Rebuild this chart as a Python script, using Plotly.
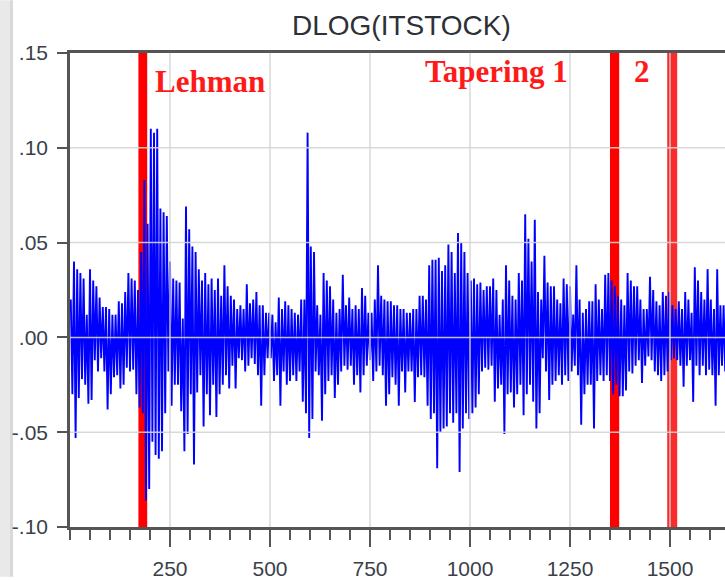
import plotly.graph_objects as go

# Daily log-differences of ITSTOCK, one value every 4 observations starting at obs 2
seg_a = [0.020, -0.030, 0.040, -0.053, 0.036, -0.032, 0.034, -0.022, 0.031, -0.025,
         0.012, -0.035, 0.036, -0.033, 0.030, -0.012, 0.027, -0.018, 0.021, -0.011,
         0.016, -0.018, 0.016, -0.038, 0.015, -0.030, 0.012, -0.021, 0.012, -0.020,
         0.019, -0.027, 0.018, -0.025, 0.024, -0.016, 0.034, -0.018, 0.031, -0.017,
         0.030, -0.030, 0.025, -0.037, 0.045, -0.040, 0.083, -0.086, 0.060, -0.080,
         0.110, -0.055, 0.108, -0.062, 0.110, -0.064, 0.068, -0.060, 0.066, -0.040,
         0.064, -0.018, 0.040]
seg_b = [-0.036, 0.031, -0.025, 0.030, -0.025, 0.029, -0.039, 0.010, -0.060, 0.069,
         -0.051, 0.057, -0.030, 0.048, -0.067, 0.045, -0.029, 0.036, -0.020, 0.030,
         -0.047, 0.034, -0.030, 0.028, -0.041, 0.031, -0.025, 0.025, -0.042, 0.031,
         -0.030, 0.022, -0.025, 0.038, -0.020, 0.027, -0.027, 0.022, -0.015, 0.020,
         -0.027, 0.015, -0.011, 0.017, -0.012, 0.015, -0.018, 0.028, -0.015, 0.018,
         -0.011, 0.020, -0.014, 0.024, -0.020, 0.017, -0.036, 0.017, -0.020, 0.013,
         -0.011, 0.013, -0.011, 0.012, -0.023, 0.008, -0.020, 0.021, -0.036, 0.015,
         -0.018, 0.019, -0.025, 0.017, -0.023]
seg_c = [0.015, -0.020, 0.013, -0.023, 0.012, -0.018, 0.020, -0.034, 0.020, -0.040,
         0.108, -0.053, 0.048, -0.043, 0.045, -0.018, 0.017, -0.020, 0.012, -0.044,
         0.034, -0.030, 0.030, -0.023, 0.027, -0.020, 0.020, -0.032, 0.013, -0.025,
         0.015, -0.018, 0.033, -0.015, 0.017, -0.017, 0.021, -0.015, 0.015, -0.025,
         0.017, -0.020, 0.015, -0.029, 0.026, -0.020, 0.022, -0.015, 0.013, -0.012,
         0.013, -0.023, 0.020, -0.018, 0.038, -0.015, 0.022, -0.020, 0.020, -0.036,
         0.019, -0.030, 0.019, -0.021, 0.017, -0.025, 0.017, -0.036, 0.015, -0.018,
         0.015, -0.029, 0.013, -0.018, 0.013]
seg_d = [-0.018, 0.015, -0.034, 0.015, -0.021, 0.022, -0.020, 0.022, -0.021, 0.020,
         -0.036, 0.038, -0.043, 0.041, -0.040, 0.041, -0.069, 0.042, -0.050, 0.035,
         -0.048, 0.038, -0.047, 0.049, -0.040, 0.045, -0.045, 0.034, -0.040, 0.055,
         -0.071, 0.050, -0.048, 0.045, -0.040, 0.034, -0.043, 0.030, -0.040, 0.031,
         -0.037, 0.028, -0.030, 0.029, -0.018, 0.025, -0.016, 0.027, -0.017, 0.027,
         -0.015, 0.031, -0.034, 0.025, -0.027, 0.012, -0.025, 0.020, -0.051, 0.038,
         -0.030, 0.030, -0.029, 0.022, -0.037, 0.020, -0.030, 0.034, -0.025, 0.030,
         -0.041, 0.065, -0.030, 0.052, -0.025]
seg_e = [0.040, -0.034, 0.062, -0.048, 0.024, -0.040, 0.020, -0.011, 0.043, -0.018,
         0.029, -0.033, 0.027, -0.025, 0.027, -0.023, 0.020, -0.020, 0.018, -0.025,
         0.031, -0.020, 0.028, -0.023, 0.027, -0.018, 0.012, -0.015, 0.038, -0.020,
         0.020, -0.046, 0.013, -0.030, 0.015, -0.025, 0.019, -0.025, 0.019, -0.048,
         0.028, -0.023, 0.020, -0.020, 0.015, -0.023, 0.033, -0.020, 0.034, -0.023,
         0.030, -0.030, 0.027, -0.025, 0.022, -0.031, 0.020, -0.031, 0.017, -0.028,
         0.034, -0.018, 0.030, -0.019, 0.027, -0.015, 0.027, -0.012, 0.020, -0.024,
         0.015, -0.015, 0.015, -0.010, 0.032]
seg_f = [-0.012, 0.025, -0.018, 0.019, -0.020, 0.017, -0.023, 0.024, -0.020, 0.022,
         -0.018, 0.024, -0.012, 0.017, -0.011, 0.015, -0.012, 0.019, -0.015, 0.015,
         -0.026, 0.024, -0.015, 0.020, -0.012, 0.013, -0.034, 0.037, -0.015, 0.030,
         -0.020, 0.024, -0.015, 0.020, -0.020, 0.036, -0.017, 0.020, -0.020, 0.015,
         -0.036, 0.036, -0.020, 0.017, -0.015, 0.017, -0.018, 0.012]
dlog = seg_a + seg_b + seg_c + seg_d + seg_e + seg_f
obs = [2 + 4 * i for i in range(len(dlog))]

# Event windows (observation ranges) and their labels
event_start = [171, 1350, 1493]
event_end = [193, 1373, 1518]
event_label = ["Lehman", "Tapering 1", "2"]
label_x = [207, 882, 1429]
label_y = [0.1350, 0.1405, 0.1405]
label_anchor = ["left", "left", "center"]

x_ticks = [250, 500, 750, 1000, 1250, 1500]
y_ticks = [-0.10, -0.05, 0.00, 0.05, 0.10, 0.15]
y_labels = ["-.10", "-.05", ".00", ".05", ".10", ".15"]
x_range = [0, 1637.5]
y_range = [-0.10, 0.15]

L, R, T, B, W, H = 70, 0, 53, 50, 725, 580
PW, PH = W - L - R, H - T - B

fig = go.Figure()
fig.add_trace(go.Scatter(x=obs, y=dlog, mode="lines",
                         line=dict(color="#0000ff", width=1.9),
                         hoverinfo="skip", showlegend=False))

shapes = []
# left window frame strip
shapes.append(dict(type="rect", xref="paper", yref="paper",
                   x0=-L / PW, x1=(10 - L) / PW, y0=-B / PH, y1=(PH + T) / PH,
                   fillcolor="#e9e9e9", line=dict(width=0), layer="below"))
shapes.append(dict(type="rect", xref="paper", yref="paper",
                   x0=(10 - L) / PW, x1=(13 - L) / PW, y0=-B / PH, y1=(PH + T) / PH,
                   fillcolor="#d9d9d9", line=dict(width=0), layer="below"))
# event bands
band_colors = ["#ff0000", "#ff0000", "rgba(250,20,20,0.9)"]
for s, e, c in zip(event_start, event_end, band_colors):
    shapes.append(dict(type="rect", xref="x", yref="y", x0=s, x1=e,
                       y0=y_range[0], y1=y_range[1], fillcolor=c,
                       line=dict(width=0), layer="below"))
# grid drawn over the series
grid_col = "rgba(212,212,212,0.9)"
for xv in x_ticks:
    shapes.append(dict(type="line", xref="x", yref="y", x0=xv, x1=xv,
                       y0=y_range[0], y1=y_range[1],
                       line=dict(color=grid_col, width=1.5), layer="above"))
for yv in y_ticks:
    if y_range[0] < yv < y_range[1]:
        shapes.append(dict(type="line", xref="x", yref="y", x0=x_range[0], x1=x_range[1],
                           y0=yv, y1=yv,
                           line=dict(color=grid_col, width=1.5), layer="above"))

annotations = [dict(text="DLOG(ITSTOCK)", xref="paper", yref="paper",
                    x=(401.5 - L) / PW, y=(PH + T - 25) / PH,
                    xanchor="center", yanchor="middle", showarrow=False,
                    font=dict(family="Liberation Sans, Arial", size=28, color="#2d3036"))]
for txt, lx, ly, anc in zip(event_label, label_x, label_y, label_anchor):
    annotations.append(dict(text="<b>%s</b>" % txt, xref="x", yref="y", x=lx, y=ly,
                            xanchor=anc, yanchor="middle", showarrow=False,
                            font=dict(family="Liberation Serif, Times New Roman",
                                      size=31, color="#ff1a1a")))

tick_font = dict(family="Liberation Sans, Arial", size=21, color="#3a3f4a")
fig.update_layout(
    width=W, height=H,
    margin=dict(l=L, r=R, t=T, b=B, pad=0),
    paper_bgcolor="white", plot_bgcolor="white",
    shapes=shapes, annotations=annotations,
    xaxis=dict(range=x_range, showgrid=False, zeroline=False,
               showline=True, linecolor="#555555", linewidth=2.5, mirror=True,
               ticks="outside", ticklen=17, tickwidth=2, tickcolor="#555555",
               tickvals=x_ticks, tickfont=tick_font, ticklabelstandoff=4,
               minor=dict(dtick=50, tick0=0, ticks="outside", ticklen=10,
                          tickwidth=2, tickcolor="#555555", showgrid=False)),
    yaxis=dict(range=y_range, showgrid=False, zeroline=False,
               showline=True, linecolor="#555555", linewidth=2.5,
               ticks="outside", ticklen=10, tickwidth=2, tickcolor="#555555",
               tickvals=y_ticks, ticktext=y_labels, tickfont=tick_font,
               ticklabelstandoff=5),
)

fig.write_html("out.html")
